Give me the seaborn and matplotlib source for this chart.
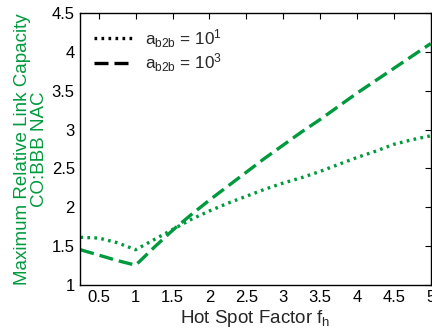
import numpy as np
import pandas as pd
import seaborn as sns
import matplotlib
matplotlib.use("Agg")
import matplotlib.pyplot as plt
from matplotlib.lines import Line2D

# Hot spot factor samples
hot_spot = [0.25, 0.5, 0.75, 1.0, 1.25, 1.5, 1.75, 2.0, 2.25, 2.5,
            2.75, 3.0, 3.25, 3.5, 3.75, 4.0, 4.25, 4.5, 4.75, 5.0]
# Maximum relative link capacity, a_b2b = 10^1
cap_b2b_1 = [1.61, 1.60, 1.54, 1.45, 1.58, 1.71, 1.84, 1.95, 2.05, 2.14,
             2.23, 2.31, 2.38, 2.46, 2.55, 2.64, 2.72, 2.81, 2.87, 2.92]
# Maximum relative link capacity, a_b2b = 10^3
cap_b2b_3 = [1.45, 1.38, 1.31, 1.25, 1.48, 1.70, 1.90, 2.09, 2.27, 2.45,
             2.63, 2.80, 2.97, 3.13, 3.30, 3.47, 3.63, 3.79, 3.95, 4.11]
legend_labels = [r"$a_{\mathrm{b2b}}$ = 10$^1$", r"$a_{\mathrm{b2b}}$ = 10$^3$"]
x_ticks = [0.5, 1, 1.5, 2, 2.5, 3, 3.5, 4, 4.5, 5]
y_ticks = [1, 1.5, 2, 2.5, 3, 3.5, 4, 4.5]

sns.set_theme(style="white")
plt.rcParams["font.family"] = ["Liberation Sans", "DejaVu Sans"]
plt.rcParams["mathtext.fontset"] = "custom"
plt.rcParams["mathtext.rm"] = "Liberation Sans"
plt.rcParams["mathtext.it"] = "Liberation Sans"

green = "#009a3e"

df = pd.DataFrame({"f": hot_spot, "c1": cap_b2b_1, "c3": cap_b2b_3})

fig = plt.figure(figsize=(4.32, 3.34), dpi=100)
ax = fig.add_axes([0.186, 0.148, 0.811, 0.812])

sns.lineplot(data=df, x="f", y="c1", ax=ax, color=green, lw=2.4,
             linestyle=(0, (0.8, 1.3)), legend=False)
sns.lineplot(data=df, x="f", y="c3", ax=ax, color=green, lw=2.4,
             linestyle=(0, (4.2, 1.8)), legend=False)

ax.set_xlim(0.25, 5)
ax.set_ylim(1, 4.5)
ax.set_xticks(x_ticks)
ax.set_xticklabels(["0.5", "1", "1.5", "2", "2.5", "3", "3.5", "4", "4.5", "5"])
ax.set_yticks(y_ticks)
ax.set_yticklabels(["1", "1.5", "2", "2.5", "3", "3.5", "4", "4.5"])
ax.tick_params(direction="in", length=4, width=0.8, top=True, right=True,
               labelsize=12, colors="black", pad=4)
for s in ax.spines.values():
    s.set_color("black")
    s.set_linewidth(1.0)

ax.set_xlabel(r"Hot Spot Factor f$_\mathrm{h}$", fontsize=13.5, labelpad=2)
ax.set_ylabel("Maximum Relative Link Capacity\nCO:BBB NAC", fontsize=13.5,
              color=green, labelpad=3, linespacing=1.0)

handles = [Line2D([], [], color="black", lw=2.4, linestyle=(0, (0.8, 1.3))),
           Line2D([], [], color="black", lw=2.4, linestyle=(0, (4.2, 1.8)))]
ax.legend(handles, legend_labels, loc="upper left", frameon=False,
          fontsize=12.3, handlelength=2.2, handletextpad=0.8, labelspacing=0.1,
          borderaxespad=0.4)

fig.savefig("out.png", dpi=100)
